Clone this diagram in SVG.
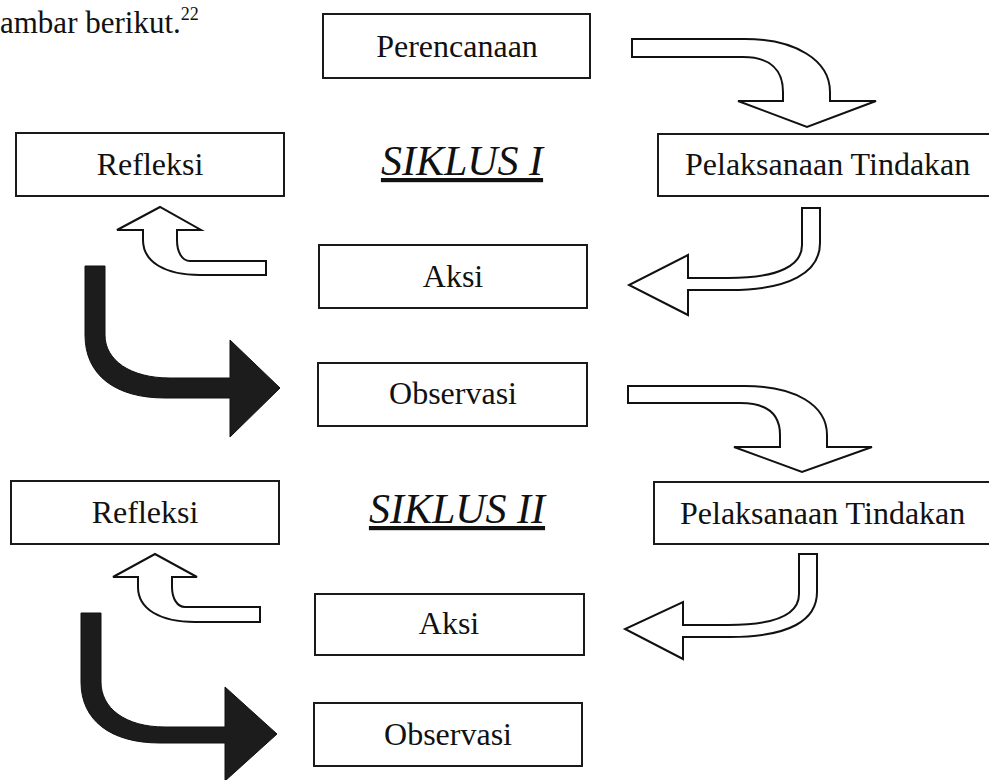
<svg xmlns="http://www.w3.org/2000/svg" width="989" height="780" viewBox="0 0 989 780">
<style>
.box{fill:#ffffff;stroke:#1a1a1a;stroke-width:2}
.lbl{font-family:"Liberation Serif","Times New Roman",serif;font-size:32px;fill:#111}
.mid{text-anchor:middle}
.cyc{font-family:"Liberation Serif","Times New Roman",serif;font-size:42px;font-style:italic;fill:#111;text-decoration:underline}
.wa{fill:#ffffff;stroke:#111;stroke-width:2;stroke-linejoin:miter}
.da{fill:#1c1c1c;stroke:#111;stroke-width:1}
</style>
<rect x="0" y="0" width="989" height="780" fill="#ffffff"/>
<text class="lbl" x="0" y="33" style="font-size:31px">ambar berikut.<tspan dy="-13" style="font-size:18px">22</tspan></text>

<g id="perencanaan"><rect class="box" x="323" y="14" width="267" height="64"/><text class="lbl mid" x="457" y="57">Perencanaan</text></g>
<g id="siklus1"><text class="cyc mid" x="462" y="175">SIKLUS I</text></g>
<g id="refleksi1"><rect class="box" x="16" y="133" width="268" height="63"/><text class="lbl mid" x="150" y="175">Refleksi</text></g>
<g id="pelaksanaan1"><rect class="box" x="658" y="134" width="345" height="62"/><text class="lbl" x="685" y="175">Pelaksanaan Tindakan</text></g>
<g id="aksi1"><rect class="box" x="319" y="245" width="268" height="63"/><text class="lbl mid" x="453" y="287">Aksi</text></g>
<g id="observasi1"><rect class="box" x="318" y="363" width="269" height="63"/><text class="lbl mid" x="453" y="404">Observasi</text></g>

<g id="siklus2"><text class="cyc mid" x="457" y="523">SIKLUS II</text></g>
<g id="refleksi2"><rect class="box" x="11" y="481" width="268" height="63"/><text class="lbl mid" x="145" y="523">Refleksi</text></g>
<g id="pelaksanaan2"><rect class="box" x="654" y="482" width="349" height="62"/><text class="lbl" x="680" y="524">Pelaksanaan Tindakan</text></g>
<g id="aksi2"><rect class="box" x="315" y="594" width="269" height="61"/><text class="lbl mid" x="449" y="634">Aksi</text></g>
<g id="observasi2"><rect class="box" x="314" y="703" width="268" height="63"/><text class="lbl mid" x="448" y="745">Observasi</text></g>

<g id="connectors">
<path class="wa" d="M632,39 L745,39 C795,39 830,60 830,92 L830,101 L876,101 L807,127 L738,101 L783,101 L783,92 C783,70 770,57 743,57 L632,57 Z"/>
<path class="wa" d="M802,208 L820,208 L820,243 C820,272 790,290 730,290 L688,290 L688,315 L629,285 L688,255 L688,278 L728,278 C780,278 802,265 802,245 Z"/>
<path class="wa" d="M266,261 L190,261 C182,261 177,252 177,240 L177,230 L201,230 L160,207 L117,230 L143,230 L143,240 C143,262 165,275 200,275 L266,275 Z"/>
<path class="da" d="M85,266 L105,266 L105,335 C105,360 130,378 170,378 L230,378 L230,340 L280,388 L230,437 L230,398 L165,398 C115,398 85,375 85,335 Z"/>

<path class="wa" d="M628,386 L745,386 C795,386 827,405 827,435 L827,447 L872,447 L802,472 L734,447 L780,447 L780,435 C780,415 768,403 740,403 L628,403 Z"/>
<path class="wa" d="M799,554 L817,554 L817,592 C817,620 790,637 730,637 L683,637 L683,659 L625,629 L683,602 L683,625 L728,625 C780,625 799,613 799,594 Z"/>
<path class="wa" d="M260,607 L185,607 C177,607 172,598 172,587 L172,577 L197,577 L155,554 L113,577 L138,577 L138,587 C138,609 160,622 195,622 L260,622 Z"/>
<path class="da" d="M81,613 L101,613 L101,682 C101,708 125,727 165,727 L225,727 L225,687 L277,734 L225,781 L225,743 L160,743 C110,743 81,720 81,682 Z"/>
</g>
</svg>
